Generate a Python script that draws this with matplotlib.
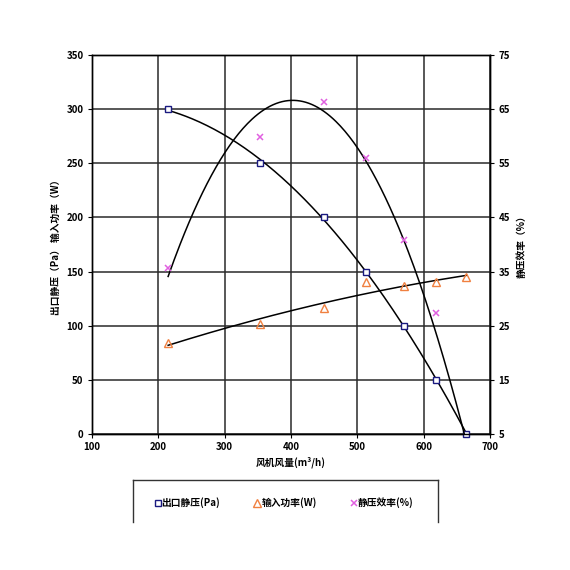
import numpy as np
import matplotlib
matplotlib.use("Agg")
import matplotlib.pyplot as plt
from matplotlib.lines import Line2D

plt.rcParams['font.family'] = ['Noto Sans CJK SC', 'DejaVu Sans']
plt.rcParams['font.weight'] = 'bold'

# 风机风量 (m3/h)
flow = np.array([215, 353, 450, 513, 570, 619, 664])
# 出口静压 (Pa)
pressure = np.array([300, 250, 200, 150, 100, 50, 0])
# 输入功率 (W)
power = np.array([84, 102, 116, 140, 137, 140, 145])
# 静压效率 (%)  -- last point is 0, below the right axis range
efficiency = np.array([35.7, 59.9, 66.4, 55.9, 40.8, 27.4, 0.0])

fig = plt.figure(figsize=(5.7, 5.7), dpi=100)
ax = fig.add_axes([0.161, 0.2386, 0.699, 0.665])
ax2 = ax.twinx()

xs = np.linspace(flow.min(), flow.max(), 200)

# trendlines (2nd order polynomial)
p_fit = np.polyfit(flow, pressure, 2)
w_fit = np.polyfit(flow, power, 2)
e_fit = np.polyfit(flow, efficiency, 2)
ax.plot(xs, np.polyval(p_fit, xs), color='black', lw=1.1, zorder=3)
ax.plot(xs, np.polyval(w_fit, xs), color='black', lw=1.1, zorder=3)
ax2.plot(xs, np.polyval(e_fit, xs), color='black', lw=1.1, zorder=3)

ax.plot(flow, pressure, ls='none', marker='s', ms=5, mfc='white',
        mec='#1a1a80', mew=1.0, zorder=4, clip_on=False)
ax.plot(flow, power, ls='none', marker='^', ms=5.5, mfc='none',
        mec='#f08040', mew=1.0, zorder=4)
ax2.plot(flow, efficiency, ls='none', marker='x', ms=5, mec='#e060e0',
         mew=1.1, zorder=4)

ax.set_xlim(100, 700)
ax.set_ylim(0, 350)
ax2.set_ylim(5, 75)
ax.set_xticks(np.arange(100, 701, 100))
ax.set_yticks(np.arange(0, 351, 50))
ax2.set_yticks(np.arange(5, 76, 10))

ax.grid(True, color='#2a2a2a', lw=1.1)
ax.set_axisbelow(True)
for a in (ax, ax2):
    for s in a.spines.values():
        s.set_color('black')
        s.set_linewidth(1.0)
    a.tick_params(labelsize=7, length=3, width=0.8, pad=3)

ax.set_xlabel('风机风量(m³/h)', fontsize=7, fontweight='bold', labelpad=3)
ax.set_ylabel('出口静压（Pa） 输入功率（W）', fontsize=7, fontweight='bold', labelpad=4)
ax2.set_ylabel('静压效率（%）', fontsize=7, fontweight='bold', labelpad=5, rotation=90)

# legend box, bottom edge cut off
x0, x1 = 133 / 570, 438 / 570
yt, yb = 1 - 480 / 570, 1 - 522 / 570
for xx, yy in [([x0, x0], [yb, yt]), ([x0, x1], [yt, yt]), ([x1, x1], [yt, yb])]:
    fig.add_artist(Line2D(xx, yy, color='#333333', lw=1.0))

handles = [
    Line2D([], [], ls='none', marker='s', ms=5, mfc='white', mec='#1a1a80', mew=1.0),
    Line2D([], [], ls='none', marker='^', ms=5.5, mfc='none', mec='#f08040', mew=1.0),
    Line2D([], [], ls='none', marker='x', ms=5, mec='#e060e0', mew=1.1),
]
labels = ['出口静压(Pa)', '输入功率(W)', '静压效率(%)']
fig.legend(handles, labels, loc='center left', bbox_to_anchor=(150 / 570, 1 - 503 / 570),
           ncol=3, frameon=False, fontsize=7, handlelength=0.6, handletextpad=0.1,
           columnspacing=3.5, borderpad=0)

fig.savefig('out.png', dpi=100)
